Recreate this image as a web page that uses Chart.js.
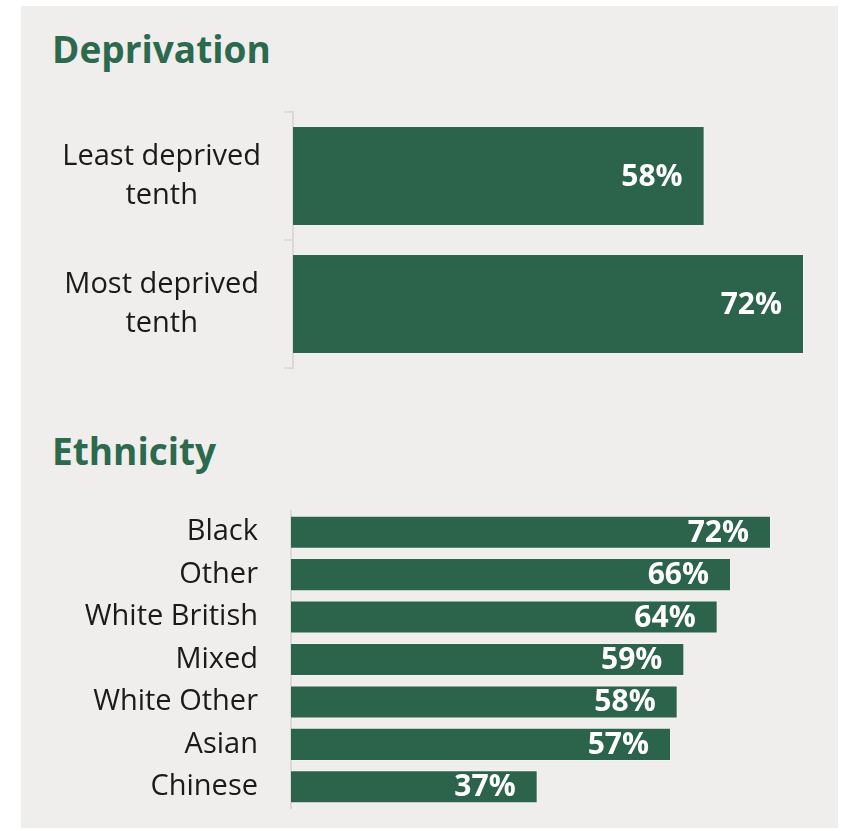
<!DOCTYPE html>
<html>
<head>
<meta charset="utf-8">
<script src="https://cdn.jsdelivr.net/npm/chart.js@4/dist/chart.umd.min.js"></script>
<style>
  body { margin: 0; background: #fff; font-family: "Open Sans", sans-serif; }
  #panel { position: absolute; left: 21px; top: 6px; width: 817px; height: 822px; background: #efeeed; }
  .title { position: absolute; left: 52px; margin: 0; font-size: 37px; line-height: 37px; font-weight: 700; color: #2b6a4d; }
  .box { position: absolute; left: 0; width: 846px; }
</style>
</head>
<body>
<div id="panel"></div>
<h2 class="title" style="top:30px">Deprivation</h2>
<div class="box" style="top:102px;height:276px"><canvas id="deprivation-chart"></canvas></div>
<h2 class="title" style="top:432px">Ethnicity</h2>
<div class="box" style="top:501px;height:317px"><canvas id="ethnicity-chart"></canvas></div>

<script>
// ====
// Data
// ====
const deprivationLabels = [['Least deprived', 'tenth'], ['Most deprived', 'tenth']];
const deprivationValues = [58, 72];

const ethnicityLabels = ['Black', 'Other', 'White British', 'Mixed', 'White Other', 'Asian', 'Chinese'];
const ethnicityValues = [72, 66, 64, 59, 58, 57, 37];

const barGreen = '#2c634b';
const axisGrey = '#d9d9d9';

//  Value labels drawn inside the end of each bar
//  ---------------------------------------------
const valueLabels = {
  id: 'valueLabels',
  afterDatasetsDraw(chart) {
    const ctx = chart.ctx;
    const meta = chart.getDatasetMeta(0);
    ctx.save();
    ctx.fillStyle = '#ffffff';
    ctx.font = 'bold 30px "Open Sans"';
    ctx.textAlign = 'right';
    ctx.textBaseline = 'middle';
    meta.data.forEach((bar, i) => {
      ctx.fillText(chart.data.datasets[0].data[i] + '%', bar.x - 22, bar.y + 1);
    });
    ctx.restore();
  },
};

// fixed axis width, and no extra top/bottom room for the tick labels
const baseOptions = (axisWidth, rightPad) => ({
  indexAxis: 'y',
  responsive: true,
  maintainAspectRatio: false,
  animation: false,
  layout: { padding: { top: 10, bottom: 10, left: 0, right: rightPad } },
  plugins: { legend: { display: false }, tooltip: { enabled: false } },
  scales: {
    x: { display: false, min: 0, max: 72 },
    y: {
      afterFit: (scale) => {
        scale.width = axisWidth;
        scale.paddingTop = 0;
        scale.paddingBottom = 0;
      },
    },
  },
});

// ===========
// Deprivation
// ===========
const depOptions = baseOptions(293, 42);
Object.assign(depOptions.scales.y, {
  grid: { display: true, drawOnChartArea: false, drawTicks: true, tickLength: 9, color: axisGrey, lineWidth: 2 },
  border: { display: true, color: axisGrey, width: 2 },
  ticks: {
    color: '#1a1a1a',
    padding: 23,
    crossAlign: 'center',
    font: { family: 'Open Sans', size: 29, lineHeight: 1.34 },
  },
});

new Chart(document.getElementById('deprivation-chart'), {
  type: 'bar',
  data: {
    labels: deprivationLabels,
    datasets: [{
      data: deprivationValues,
      backgroundColor: barGreen,
      borderColor: 'rgba(255,255,255,0.3)',
      borderWidth: 1,
      barPercentage: 0.78,
      categoryPercentage: 1,
    }],
  },
  options: depOptions,
  plugins: [valueLabels],
});

// =========
// Ethnicity
// =========
const ethOptions = baseOptions(291, 75);
Object.assign(ethOptions.scales.y, {
  grid: { display: false, drawTicks: false },
  border: { display: true, color: axisGrey, width: 2 },
  ticks: {
    color: '#1a1a1a',
    padding: 33,
    font: { family: 'Open Sans', size: 29 },
  },
});

new Chart(document.getElementById('ethnicity-chart'), {
  type: 'bar',
  data: {
    labels: ethnicityLabels,
    datasets: [{
      data: ethnicityValues,
      backgroundColor: barGreen,
      borderColor: 'rgba(255,255,255,0.3)',
      borderWidth: 1,
      barPercentage: 0.78,
      categoryPercentage: 1,
    }],
  },
  options: ethOptions,
  plugins: [valueLabels],
});
</script>
</body>
</html>
